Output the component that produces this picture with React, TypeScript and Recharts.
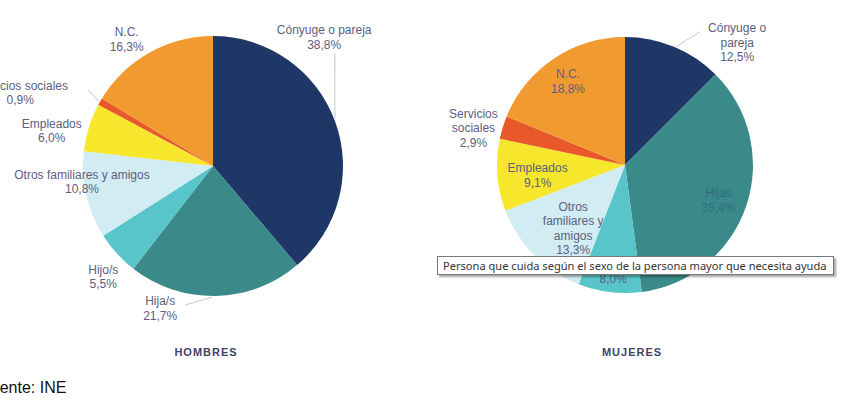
import React from 'react';
import { PieChart, Pie, Cell } from 'recharts';

// slice colours, same order in both pies
const COLORS = ['#1f3766', '#3b8a8a', '#57c5c9', '#d2ecf3', '#f6e62c', '#e8582a', '#f19a30'];

const hombresNames = ['Cónyuge o pareja', 'Hija/s', 'Hijo/s', 'Otros familiares y amigos', 'Empleados', 'Servicios sociales', 'N.C.'];
const hombresValues = [38.8, 21.7, 5.5, 10.8, 6.0, 0.9, 16.3];

const mujeresNames = ['Cónyuge o\npareja', 'Hijas', 'Hijo/s', 'Otros\nfamiliares y\namigos', 'Empleados', 'Servicios\nsociales', 'N.C.'];
const mujeresValues = [12.5, 35.4, 8.0, 13.3, 9.1, 2.9, 18.8];

const hombresData = hombresNames.map((name, i) => ({ name, value: hombresValues[i] }));
const mujeresData = mujeresNames.map((name, i) => ({ name, value: mujeresValues[i] }));

// label placement: radius + angle nudge from the slice middle, optional leader line (r1, a1, r2, a2)
type Place = { r: number; da: number; line?: number[]; color?: string };

const hombresPlace: Place[] = [
  { r: 170, da: 29, line: [131, 21.5, 166, 42.8] },
  { r: 152, da: -21.6, line: [131, -90.4, 142, -101.4] },
  { r: 156, da: 3 },
  { r: 132, da: -6 },
  { r: 165, da: 5 },
  { r: 206, da: 9, line: [131, 150.5, 146, 148.7] },
  { r: 153, da: 5 },
];

const mujeresPlace: Place[] = [
  { r: 166, da: -20, line: [129, 66.6, 153, 60.6] },
  { r: 100, da: -2, color: '#2f6e80' },
  { r: 107, da: 0.5 },
  { r: 82, da: 6 },
  { r: 88, da: 2.4 },
  { r: 156, da: 3.4 },
  { r: 101, da: 0.5 },
];

const RAD = Math.PI / 180;
const polar = (cx: number, cy: number, r: number, a: number) => ({
  x: cx + r * Math.cos(-a * RAD),
  y: cy + r * Math.sin(-a * RAD),
});

const makeLabel = (places: Place[]) => (props: any) => {
  const { cx, cy, midAngle, index, name, value } = props;
  const p = places[index];
  const pos = polar(cx, cy, p.r, midAngle + p.da);
  const lines = `${name}\n${Number(value).toFixed(1).replace('.', ',')}%`.split('\n');
  const lh = 14.5;
  const y0 = pos.y - ((lines.length - 1) * lh) / 2;
  let leader = null;
  if (p.line) {
    const a = polar(cx, cy, p.line[0], p.line[1]);
    const b = polar(cx, cy, p.line[2], p.line[3]);
    leader = <line x1={a.x} y1={a.y} x2={b.x} y2={b.y} stroke="#c4c6cc" strokeWidth={1} />;
  }
  return (
    <g>
      {leader}
      <text
        x={pos.x}
        y={y0}
        textAnchor="middle"
        dominantBaseline="central"
        fill={p.color || '#5b6080'}
        fontSize={12}
        fontFamily="'Liberation Sans', Arial, sans-serif"
      >
        {lines.map((t, i) => (
          <tspan key={i} x={pos.x} y={y0 + i * lh}>
            {t}
          </tspan>
        ))}
      </text>
    </g>
  );
};

const captionStyle: React.CSSProperties = {
  position: 'absolute',
  top: 346,
  fontFamily: "'Liberation Sans', Arial, sans-serif",
  fontSize: 11,
  fontWeight: 'bold',
  letterSpacing: 1,
  color: '#3d4466',
  transform: 'translateX(-50%)',
};

export default function App() {
  return (
    <div style={{ position: 'absolute', left: 0, top: 0, width: 846, height: 407, background: '#fff', overflow: 'hidden' }}>
      <PieChart width={846} height={407} margin={{ top: 0, right: 0, bottom: 0, left: 0 }}>
        <Pie
          data={hombresData}
          dataKey="value"
          nameKey="name"
          cx={213}
          cy={166}
          outerRadius={130}
          startAngle={90}
          endAngle={-270}
          stroke="none"
          labelLine={false}
          label={makeLabel(hombresPlace)}
          isAnimationActive={false}
        >
          {hombresData.map((d, i) => (
            <Cell key={d.name} fill={COLORS[i]} />
          ))}
        </Pie>
        <Pie
          data={mujeresData}
          dataKey="value"
          nameKey="name"
          cx={625}
          cy={165}
          outerRadius={128}
          startAngle={90}
          endAngle={-270}
          stroke="none"
          labelLine={false}
          label={makeLabel(mujeresPlace)}
          isAnimationActive={false}
        >
          {mujeresData.map((d, i) => (
            <Cell key={d.name} fill={COLORS[i]} />
          ))}
        </Pie>
      </PieChart>

      <div style={{ ...captionStyle, left: 206 }}>HOMBRES</div>
      <div style={{ ...captionStyle, left: 632 }}>MUJERES</div>

      <div
        style={{
          position: 'absolute',
          left: -19,
          top: 379,
          fontFamily: "'Liberation Sans', Arial, sans-serif",
          fontSize: 16,
          color: '#111',
          whiteSpace: 'nowrap',
        }}
      >
        Fuente: INE
      </div>

      <div
        style={{
          position: 'absolute',
          left: 437,
          top: 256,
          width: 390,
          height: 17,
          border: '1px solid #7a7a7a',
          background: '#fff',
          boxShadow: '2px 2px 2px rgba(0,0,0,0.35)',
          fontFamily: "'Noto Sans', 'Open Sans', sans-serif",
          fontSize: 11.1,
          lineHeight: '17px',
          color: '#333',
          whiteSpace: 'nowrap',
          paddingLeft: 5,
          boxSizing: 'content-box',
        }}
      >
        Persona que cuida según el sexo de la persona mayor que necesita ayuda
      </div>
    </div>
  );
}
